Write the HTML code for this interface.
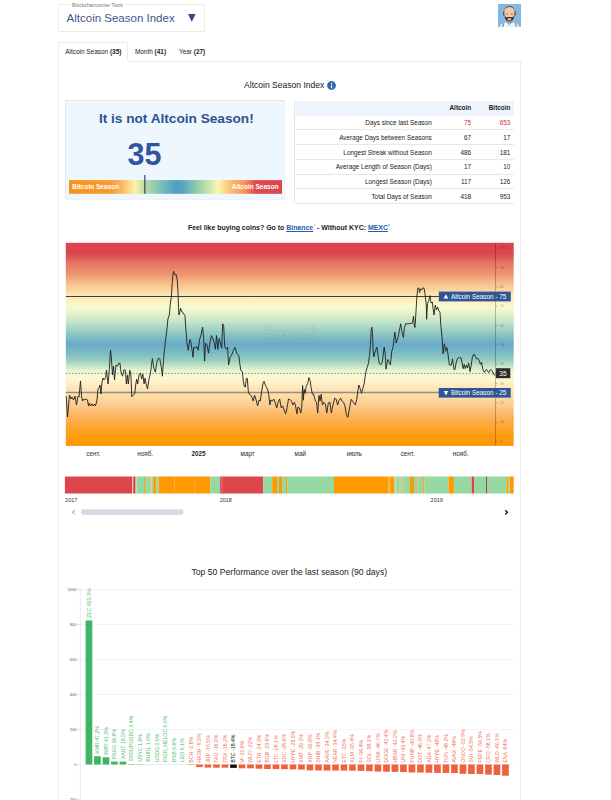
<!DOCTYPE html>
<html><head><meta charset="utf-8"><style>
*{margin:0;padding:0;box-sizing:border-box}
body{width:611px;height:800px;overflow:hidden;background:#fff;position:relative;font-family:'Liberation Sans',sans-serif;color:#333}
.a{position:absolute}
svg text{font-family:'Liberation Sans',sans-serif;}
</style></head><body>
<!-- dropdown -->
<div class="a" style="left:58.3px;top:4.4px;width:146.4px;height:27.6px;border:1px solid #ebebeb;border-radius:1.5px"></div>
<div class="a" style="left:70.5px;top:1.9px;padding:0 1.5px;background:#fff;font-size:5px;color:#777;line-height:6px">Blockchaincenter Tools</div>
<div class="a" style="left:66.6px;top:12.4px;font-size:11.5px;color:#44558c;line-height:13px;white-space:nowrap">Altcoin Season Index</div>
<svg class="a" style="left:188px;top:14.2px" width="7.6" height="8" viewBox="0 0 7.6 8"><path d="M0,0 L7.6,0 L3.8,8 Z" fill="#37498a"/></svg>
<!-- avatar -->
<svg class="a" style="left:497.8px;top:3.8px" width="23" height="23.2" viewBox="0 0 23 23.2">
<rect width="23" height="23.2" fill="#82b8e2"/>
<path d="M1.5,23.2 Q2.5,19.6 7.5,18.6 L11.4,19.6 L15.4,18.6 Q20.4,19.6 21.4,23.2 Z" fill="#eef0f4"/>
<path d="M4.6,23.2 L5.6,19.4" stroke="#4a4a5a" stroke-width="0.8"/><path d="M18.4,23.2 L17.4,19.4" stroke="#4a4a5a" stroke-width="0.8"/>
<path d="M9.6,18.4 L11.4,20.6 L13.3,18.4" fill="none" stroke="#6a5050" stroke-width="0.6"/>
<ellipse cx="6.1" cy="9.4" rx="1.1" ry="2.6" fill="#6b4a3c"/><ellipse cx="16.8" cy="9.4" rx="1.1" ry="2.6" fill="#6b4a3c"/>
<ellipse cx="11.4" cy="9.6" rx="5.1" ry="7.4" fill="#f1c7a6"/>
<path d="M6.4,6.5 Q7,2.2 11.4,2.1 Q15.8,2.2 16.4,6.5 Q15.4,3.2 11.4,3 Q7.4,3.2 6.4,6.5 Z" fill="#5a4a48"/>
<path d="M6.6,11.5 Q6.8,16.8 11.4,17.6 Q16,16.8 16.2,11.5 Q15.2,13.2 14.2,13.4 Q12.8,12.9 11.4,13.1 Q10,12.9 8.6,13.4 Q7.6,13.2 6.6,11.5 Z" fill="#33231c"/>
<ellipse cx="11.4" cy="15.3" rx="2" ry="1.2" fill="#e8b498"/>
<path d="M7.8,10.1 L10,10.1" stroke="#7a5a50" stroke-width="0.8"/><path d="M12.8,10.1 L15,10.1" stroke="#7a5a50" stroke-width="0.8"/>
</svg>
<!-- tabs -->
<div class="a" style="left:58.3px;top:42.2px;width:69.8px;height:19.3px;border:1px solid #ececec;border-bottom:none;background:#fff"></div>
<div class="a" style="left:128px;top:60.6px;width:392.5px;height:1px;background:#ececec"></div>
<div class="a" style="left:58.3px;top:61px;width:1px;height:739px;background:#ececec"></div>
<div class="a" style="left:519.8px;top:60.6px;width:1px;height:739.4px;background:#ececec"></div>
<div class="a" style="left:65.2px;top:48px;font-size:6.45px;line-height:7px;white-space:nowrap;color:#222">Altcoin Season <b>(35)</b></div>
<div class="a" style="left:134.9px;top:48px;font-size:6.45px;line-height:7px;white-space:nowrap;color:#222">Month <b>(41)</b></div>
<div class="a" style="left:179px;top:48px;font-size:6.45px;line-height:7px;white-space:nowrap;color:#222">Year <b>(27)</b></div>
<!-- title -->
<div class="a" style="left:244.1px;top:79.9px;font-size:8.55px;line-height:10px;white-space:nowrap;color:#222">Altcoin Season Index</div>
<svg class="a" style="left:327.3px;top:80.6px" width="9" height="9" viewBox="0 0 9 9"><circle cx="4.5" cy="4.5" r="4.4" fill="#3465a8"/><rect x="4" y="3.8" width="1.1" height="3.4" fill="#fff"/><circle cx="4.55" cy="2.5" r="0.65" fill="#fff"/></svg>
<!-- status box -->
<div class="a" style="left:64.9px;top:100.2px;width:219.7px;height:100.1px;background:#eef6fe;border:1px solid #e3e7ec;border-right-color:#eef2f6;border-bottom-color:#eef2f6"></div>
<div class="a" style="left:98.9px;top:110.9px;font-size:13.65px;line-height:16px;font-weight:bold;color:#2f5191;white-space:nowrap">It is not Altcoin Season!</div>
<div class="a" style="left:127.5px;top:136.9px;font-size:30.5px;line-height:34px;font-weight:bold;color:#30559c">35</div>
<svg class="a" style="left:68.8px;top:175px" width="213" height="19" viewBox="0 0 213 19"><rect x="0" y="5.1" width="213" height="13.7" fill="url(#gauge)"/><rect x="75.3" y="0" width="1.1" height="18.8" fill="#2a3550"/></svg>
<div class="a" style="left:72.2px;top:182.8px;font-size:6.5px;line-height:7px;font-weight:bold;color:#fff;white-space:nowrap">Bitcoin Season</div>
<div class="a" style="left:231.7px;top:182.8px;font-size:6.5px;line-height:7px;font-weight:bold;color:#fff;white-space:nowrap">Altcoin Season</div>
<!-- table -->
<div class="a" style="left:294.3px;top:100.5px;width:219.3px;height:15.1px;background:#eef5fd"></div>
<div class="a" style="left:294.3px;top:100.5px;width:219.3px;height:102.9px;border-left:1px solid #e6e6e6"></div>
<div class="a" style="left:449.5px;top:103.7px;font-size:6.4px;line-height:7px;font-weight:bold;color:#222;width:21.6px;text-align:right">Altcoin</div><div class="a" style="left:480px;top:103.7px;font-size:6.4px;line-height:7px;font-weight:bold;color:#222;width:30.4px;text-align:right">Bitcoin</div><div class="a" style="left:295.9px;top:129.4px;width:217.7px;height:0.6px;background:#e8e8e8"></div><div class="a" style="left:300px;top:119.2px;width:131.8px;text-align:right;font-size:6.4px;line-height:7px;color:#222;white-space:nowrap">Days since last Season</div><div class="a" style="left:440px;top:119.2px;width:31.1px;text-align:right;font-size:6.4px;line-height:7px;color:#d6323e">75</div><div class="a" style="left:480px;top:119.2px;width:30.4px;text-align:right;font-size:6.4px;line-height:7px;color:#d6323e">653</div><div class="a" style="left:295.9px;top:144.1px;width:217.7px;height:0.6px;background:#e8e8e8"></div><div class="a" style="left:300px;top:133.9px;width:131.8px;text-align:right;font-size:6.4px;line-height:7px;color:#222;white-space:nowrap">Average Days between Seasons</div><div class="a" style="left:440px;top:133.9px;width:31.1px;text-align:right;font-size:6.4px;line-height:7px;color:#222">67</div><div class="a" style="left:480px;top:133.9px;width:30.4px;text-align:right;font-size:6.4px;line-height:7px;color:#222">17</div><div class="a" style="left:295.9px;top:158.8px;width:217.7px;height:0.6px;background:#e8e8e8"></div><div class="a" style="left:300px;top:148.6px;width:131.8px;text-align:right;font-size:6.4px;line-height:7px;color:#222;white-space:nowrap">Longest Streak without Season</div><div class="a" style="left:440px;top:148.6px;width:31.1px;text-align:right;font-size:6.4px;line-height:7px;color:#222">486</div><div class="a" style="left:480px;top:148.6px;width:30.4px;text-align:right;font-size:6.4px;line-height:7px;color:#222">181</div><div class="a" style="left:295.9px;top:173.5px;width:217.7px;height:0.6px;background:#e8e8e8"></div><div class="a" style="left:300px;top:163.3px;width:131.8px;text-align:right;font-size:6.4px;line-height:7px;color:#222;white-space:nowrap">Average Length of Season (Days)</div><div class="a" style="left:440px;top:163.3px;width:31.1px;text-align:right;font-size:6.4px;line-height:7px;color:#222">17</div><div class="a" style="left:480px;top:163.3px;width:30.4px;text-align:right;font-size:6.4px;line-height:7px;color:#222">10</div><div class="a" style="left:295.9px;top:188.2px;width:217.7px;height:0.6px;background:#e8e8e8"></div><div class="a" style="left:300px;top:178.0px;width:131.8px;text-align:right;font-size:6.4px;line-height:7px;color:#222;white-space:nowrap">Longest Season (Days)</div><div class="a" style="left:440px;top:178.0px;width:31.1px;text-align:right;font-size:6.4px;line-height:7px;color:#222">117</div><div class="a" style="left:480px;top:178.0px;width:30.4px;text-align:right;font-size:6.4px;line-height:7px;color:#222">126</div><div class="a" style="left:295.9px;top:202.9px;width:217.7px;height:0.6px;background:#e8e8e8"></div><div class="a" style="left:300px;top:192.7px;width:131.8px;text-align:right;font-size:6.4px;line-height:7px;color:#222;white-space:nowrap">Total Days of Season</div><div class="a" style="left:440px;top:192.7px;width:31.1px;text-align:right;font-size:6.4px;line-height:7px;color:#222">418</div><div class="a" style="left:480px;top:192.7px;width:30.4px;text-align:right;font-size:6.4px;line-height:7px;color:#222">953</div>
<!-- promo -->
<div class="a" style="left:187.9px;top:223.6px;font-size:6.95px;line-height:8px;font-weight:bold;color:#222;white-space:nowrap">Feel like buying coins? Go to <span style="color:#2a5caa;text-decoration:underline">Binance</span><span style="display:inline-block;width:1.6px;height:2.4px;margin-left:0.4px;background:#9cc3e6;vertical-align:3.6px;border-radius:0.5px"></span> - Without KYC: <span style="color:#2a5caa;text-decoration:underline">MEXC</span><span style="display:inline-block;width:1.6px;height:2.4px;margin-left:0.4px;background:#9cc3e6;vertical-align:3.6px;border-radius:0.5px"></span></div>
<div class="a" style="left:191.5px;top:566.8px;font-size:8.65px;line-height:10px;color:#222;white-space:nowrap">Top 50 Performance over the last season (90 days)</div>
<svg style="position:absolute;left:0;top:0" width="611" height="800" viewBox="0 0 611 800">
<defs><linearGradient id="bg" x1="0" y1="242.8" x2="0" y2="445.5" gradientUnits="userSpaceOnUse"><stop offset="0.0000" stop-color="#de424e"/><stop offset="0.0498" stop-color="#da464a"/><stop offset="0.0750" stop-color="#de5a55"/><stop offset="0.1031" stop-color="#e77864"/><stop offset="0.1569" stop-color="#ee9673"/><stop offset="0.1929" stop-color="#f6b987"/><stop offset="0.2279" stop-color="#fbd29b"/><stop offset="0.2526" stop-color="#fde4b2"/><stop offset="0.2822" stop-color="#fdf0be"/><stop offset="0.3167" stop-color="#f5fad2"/><stop offset="0.3552" stop-color="#e1f0c8"/><stop offset="0.3848" stop-color="#c8e6c8"/><stop offset="0.4292" stop-color="#a0d2c3"/><stop offset="0.4647" stop-color="#82bec3"/><stop offset="0.4993" stop-color="#69aac8"/><stop offset="0.5387" stop-color="#78b9c3"/><stop offset="0.5782" stop-color="#96cdbe"/><stop offset="0.6103" stop-color="#c8e6c8"/><stop offset="0.6315" stop-color="#ebf5d2"/><stop offset="0.6670" stop-color="#fef8d2"/><stop offset="0.7109" stop-color="#fde8be"/><stop offset="0.7311" stop-color="#fee2b0"/><stop offset="0.7533" stop-color="#fedda6"/><stop offset="0.7755" stop-color="#fdd49c"/><stop offset="0.8101" stop-color="#fcc88a"/><stop offset="0.8446" stop-color="#fcb866"/><stop offset="0.8791" stop-color="#fcae48"/><stop offset="0.9087" stop-color="#fda632"/><stop offset="0.9497" stop-color="#fe9c10"/><stop offset="1.0000" stop-color="#ff9900"/></linearGradient>
<linearGradient id="gauge" x1="0" x2="1" y1="0" y2="0">
<stop offset="0" stop-color="#f7931e"/><stop offset="0.19" stop-color="#f89a2a"/><stop offset="0.245" stop-color="#fab45a"/>
<stop offset="0.31" stop-color="#fcf4a8"/><stop offset="0.355" stop-color="#b8dda6"/><stop offset="0.43" stop-color="#7fc0b3"/>
<stop offset="0.5" stop-color="#4f9ec4"/><stop offset="0.535" stop-color="#5aa6bf"/><stop offset="0.625" stop-color="#a9d8a8"/>
<stop offset="0.70" stop-color="#f9f7b0"/><stop offset="0.73" stop-color="#fbd88e"/><stop offset="0.775" stop-color="#f9b262"/>
<stop offset="0.82" stop-color="#f59a50"/><stop offset="0.85" stop-color="#ea6e52"/><stop offset="0.875" stop-color="#de4c50"/><stop offset="1" stop-color="#dc4249"/></linearGradient>
</defs>
<rect x="65.8" y="242.8" width="447.9" height="203" fill="url(#bg)"/><line x1="65.8" y1="445.3" x2="513.7" y2="445.3" stroke="#c86a00" stroke-opacity="0.25" stroke-width="0.8"/>
<text x="263.7" y="331" font-size="9" font-weight="bold" fill="#2a4a50" fill-opacity="0.08" textLength="53" lengthAdjust="spacingAndGlyphs">BLOCKCHAIN</text>
<text x="263.3" y="338.8" font-size="9" font-weight="bold" fill="#2a4a50" fill-opacity="0.08" textLength="52.5" lengthAdjust="spacingAndGlyphs">CENTER</text>
<line x1="495.5" y1="242.8" x2="495.5" y2="445.5" stroke="#000" stroke-opacity="0.3" stroke-width="0.8"/>
<line x1="495.5" y1="441.5" x2="497.5" y2="441.5" stroke="#000" stroke-opacity="0.35" stroke-width="0.6"/><text x="500" y="442.7" font-size="3.4" fill="#000" fill-opacity="0.4">0</text><line x1="495.5" y1="422.2" x2="497.5" y2="422.2" stroke="#000" stroke-opacity="0.35" stroke-width="0.6"/><text x="500" y="423.4" font-size="3.4" fill="#000" fill-opacity="0.4">10</text><line x1="495.5" y1="402.8" x2="497.5" y2="402.8" stroke="#000" stroke-opacity="0.35" stroke-width="0.6"/><text x="500" y="404.0" font-size="3.4" fill="#000" fill-opacity="0.4">20</text><line x1="495.5" y1="383.5" x2="497.5" y2="383.5" stroke="#000" stroke-opacity="0.35" stroke-width="0.6"/><text x="500" y="384.7" font-size="3.4" fill="#000" fill-opacity="0.4">30</text><line x1="495.5" y1="364.2" x2="497.5" y2="364.2" stroke="#000" stroke-opacity="0.35" stroke-width="0.6"/><text x="500" y="365.4" font-size="3.4" fill="#000" fill-opacity="0.4">40</text><line x1="495.5" y1="344.9" x2="497.5" y2="344.9" stroke="#000" stroke-opacity="0.35" stroke-width="0.6"/><text x="500" y="346.1" font-size="3.4" fill="#000" fill-opacity="0.4">50</text><line x1="495.5" y1="325.5" x2="497.5" y2="325.5" stroke="#000" stroke-opacity="0.35" stroke-width="0.6"/><text x="500" y="326.7" font-size="3.4" fill="#000" fill-opacity="0.4">60</text><line x1="495.5" y1="306.2" x2="497.5" y2="306.2" stroke="#000" stroke-opacity="0.35" stroke-width="0.6"/><text x="500" y="307.4" font-size="3.4" fill="#000" fill-opacity="0.4">70</text><line x1="495.5" y1="286.9" x2="497.5" y2="286.9" stroke="#000" stroke-opacity="0.35" stroke-width="0.6"/><text x="500" y="288.1" font-size="3.4" fill="#000" fill-opacity="0.4">80</text><line x1="495.5" y1="267.5" x2="497.5" y2="267.5" stroke="#000" stroke-opacity="0.35" stroke-width="0.6"/><text x="500" y="268.7" font-size="3.4" fill="#000" fill-opacity="0.4">90</text><line x1="495.5" y1="248.2" x2="497.5" y2="248.2" stroke="#000" stroke-opacity="0.35" stroke-width="0.6"/><text x="500" y="249.4" font-size="3.4" fill="#000" fill-opacity="0.4">100</text>
<line x1="65.8" y1="296.5" x2="439" y2="296.5" stroke="#363f44" stroke-width="1"/>
<line x1="65.8" y1="392.6" x2="439" y2="392.6" stroke="#918f86" stroke-width="1.5"/>
<line x1="65.8" y1="373.4" x2="496" y2="373.4" stroke="#555" stroke-width="0.6" stroke-dasharray="1.6,1.6"/>
<polyline points="66.2,396.0 67.5,417.0 69.5,395.0 71.0,399.0 72.0,397.0 73.5,400.0 75.0,396.0 76.5,405.0 78.0,396.0 79.0,397.0 80.5,381.0 81.5,396.0 82.5,401.0 83.5,399.0 84.5,400.0 86.0,399.0 87.5,400.0 88.5,406.0 89.5,403.0 90.5,406.0 92.0,404.0 93.0,406.0 94.5,404.0 95.5,406.0 97.0,400.0 98.0,389.0 99.0,388.0 100.0,385.0 101.0,394.0 102.0,382.0 103.0,378.0 104.0,380.0 105.5,378.0 106.5,370.0 108.0,384.0 109.0,374.0 110.5,350.0 111.5,360.0 112.5,375.0 113.5,366.0 114.5,380.0 116.0,365.0 117.5,366.0 119.0,363.0 120.0,363.4 121.0,372.2 122.5,376.2 123.9,369.8 125.4,370.3 126.4,384.0 127.4,375.2 128.3,384.0 129.8,370.3 130.8,373.2 131.8,396.8 133.3,394.8 134.7,393.9 135.7,385.0 136.7,379.1 137.7,384.0 139.2,374.2 140.6,373.2 141.6,379.1 142.8,374.2 144.1,384.0 145.0,378.1 146.0,383.0 147.5,389.0 149.0,379.1 150.5,373.2 151.4,365.4 152.4,358.5 153.9,368.3 155.4,372.2 156.8,362.4 158.3,358.0 159.8,359.0 161.3,367.3 162.4,376.2 163.7,357.5 164.7,347.7 165.7,338.8 166.9,330.0 167.9,319.0 169.3,315.0 170.3,304.2 171.3,297.3 172.3,282.6 172.8,275.7 173.6,271.3 174.7,274.7 176.2,274.7 177.2,279.6 177.9,289.5 178.5,307.2 178.9,315.0 179.6,313.0 180.6,308.1 181.6,311.0 183.1,313.0 184.9,315.4 185.9,329.6 186.9,342.4 188.3,350.3 189.8,339.5 190.8,341.4 191.8,348.3 193.0,357.2 193.8,347.3 195.2,348.3 196.7,346.3 198.2,350.3 199.6,339.5 201.1,334.6 202.6,327.2 203.6,337.5 204.6,361.1 205.5,343.4 207.0,344.4 208.5,353.2 210.0,342.4 211.4,335.5 212.9,338.5 214.4,343.4 215.4,349.3 216.5,335.5 217.8,349.3 219.1,338.5 220.3,342.4 221.7,348.3 222.7,323.8 223.7,325.7 224.7,346.3 226.2,349.3 227.6,347.3 228.6,365.0 230.1,357.2 231.6,355.2 233.0,351.3 235.0,347.3 236.5,352.9 238.0,354.8 238.9,355.8 239.9,364.6 240.9,370.5 242.4,371.5 243.3,381.3 244.3,386.3 245.3,387.2 246.3,378.4 247.3,378.4 248.3,391.2 249.2,394.1 250.7,395.1 251.9,397.1 253.2,401.0 254.6,395.1 256.1,400.0 257.6,405.9 259.1,400.0 260.3,401.0 261.5,392.2 263.0,383.3 264.0,381.3 265.5,385.3 266.4,387.2 267.9,390.2 268.9,396.1 269.9,404.9 270.9,400.0 272.3,401.0 273.8,399.0 275.3,403.0 276.7,407.9 278.2,402.0 279.7,399.0 281.2,407.9 282.6,405.9 284.1,409.8 285.6,413.8 287.1,407.9 288.5,399.0 290.0,399.5 291.5,401.2 292.9,405.1 294.4,402.2 295.4,405.1 296.9,413.9 297.9,407.1 299.3,408.0 300.8,413.0 301.8,406.1 302.6,385.5 303.3,400.2 304.2,389.4 305.2,393.3 306.2,386.4 307.7,383.5 308.9,377.6 310.1,380.5 311.1,387.4 312.4,394.3 313.6,394.3 314.6,398.2 315.5,401.2 316.5,402.2 317.7,413.0 319.0,395.3 320.0,401.2 321.2,394.3 322.4,405.1 323.9,402.2 325.4,404.1 326.8,413.0 328.3,403.1 329.8,402.2 331.3,413.0 332.7,406.1 334.7,398.2 336.2,399.2 337.6,405.1 339.1,400.2 340.6,398.2 342.1,401.2 343.5,402.2 345.0,406.1 346.4,414.6 347.8,417.3 349.1,410.5 351.2,399.4 353.3,402.2 355.3,405.0 356.7,399.4 358.8,385.0 360.1,388.4 361.5,393.3 362.9,388.4 364.3,382.9 365.6,373.3 367.0,367.8 368.4,363.7 369.5,355.4 370.5,344.4 371.1,330.6 371.8,327.2 372.5,333.4 373.2,351.3 373.9,356.8 375.3,351.3 376.9,347.2 378.0,355.4 379.4,363.7 380.8,365.0 382.2,362.3 384.2,347.2 385.2,354.0 386.0,369.2 387.7,359.5 389.3,362.3 390.4,365.0 391.8,351.3 393.2,346.5 394.8,332.0 396.2,343.0 398.0,337.5 399.4,330.6 400.7,323.8 401.3,327.5 402.3,333.8 403.5,337.5 404.4,327.5 405.6,323.8 408.8,323.8 412.5,323.1 413.5,316.3 414.4,326.3 415.0,327.5 416.0,311.3 416.9,296.3 417.8,288.1 418.8,288.1 419.6,292.5 420.6,288.8 421.5,290.0 422.5,288.1 424.0,288.1 425.0,293.8 426.3,305.0 426.6,319.4 427.5,303.8 428.8,300.6 430.0,295.6 431.0,303.1 432.3,301.9 433.1,308.8 434.0,315.0 435.3,305.0 436.5,310.0 437.5,306.9 438.8,310.6 440.0,312.5 441.0,327.5 441.9,335.0 443.1,353.8 444.4,343.8 445.6,351.3 446.9,347.5 448.1,355.0 449.4,365.0 451.3,365.0 452.5,358.8 454.0,369.4 455.0,369.5 456.1,362.8 457.2,359.1 458.3,357.7 459.4,357.7 460.9,357.7 462.0,362.1 463.1,368.7 464.2,364.3 465.3,368.7 466.4,365.0 467.5,368.0 468.6,362.8 470.1,371.7 471.2,365.0 472.3,357.7 473.4,354.7 474.5,354.7 475.6,356.9 476.7,359.1 477.8,358.4 478.9,359.9 480.4,364.3 481.5,362.1 482.6,368.0 483.4,370.9 484.5,372.4 485.6,370.2 486.7,369.5 487.8,371.7 488.9,372.4 490.0,370.2 491.1,369.5 492.2,370.9 493.3,373.1 494.4,375.3 495.1,374.6" fill="none" stroke="#1e1e1e" stroke-width="0.9" stroke-linejoin="round"/>
<rect x="438.8" y="291.6" width="72" height="9.8" fill="#2f5597"/>
<path d="M443.6,298.6 L448.2,298.6 L445.9,294.2 Z" fill="#fff"/>
<text x="451" y="298.9" font-size="6.5" fill="#fff" textLength="55.4" lengthAdjust="spacingAndGlyphs">Altcoin Season - 75</text>
<rect x="438.7" y="388" width="72" height="9.6" fill="#2f5597"/>
<path d="M443.8,391.1 L448.2,391.1 L446,395.4 Z" fill="#fff"/>
<text x="451" y="395.1" font-size="6.5" fill="#fff" textLength="55.4" lengthAdjust="spacingAndGlyphs">Bitcoin Season - 25</text>
<rect x="495.9" y="368.2" width="14.4" height="10" fill="#2b2b2b"/>
<text x="503" y="375.9" font-size="6.6" fill="#fff" text-anchor="middle">35</text>
<text x="93.3" y="456.3" font-size="6.3" fill="#2a2a2a" text-anchor="middle">сент.</text><text x="145.2" y="456.3" font-size="6.3" fill="#2a2a2a" text-anchor="middle">нояб.</text><text x="198.5" y="456.3" font-size="6.3" fill="#2a2a2a" text-anchor="middle" font-weight="bold">2025</text><text x="247.6" y="456.3" font-size="6.3" fill="#2a2a2a" text-anchor="middle">март</text><text x="300.3" y="456.3" font-size="6.3" fill="#2a2a2a" text-anchor="middle">май</text><text x="354.2" y="456.3" font-size="6.3" fill="#2a2a2a" text-anchor="middle">июль</text><text x="407.7" y="456.3" font-size="6.3" fill="#2a2a2a" text-anchor="middle">сент.</text><text x="460.7" y="456.3" font-size="6.3" fill="#2a2a2a" text-anchor="middle">нояб.</text><rect x="64.9" y="476.5" width="67.40" height="17" fill="#dc464b"/><rect x="132.3" y="476.5" width="1.00" height="17" fill="#ecc0a8"/><rect x="133.3" y="476.5" width="2.30" height="17" fill="#c9404c"/><rect x="135.6" y="476.5" width="0.90" height="17" fill="#cfe0b0"/><rect x="136.5" y="476.5" width="7.50" height="17" fill="#96d8a2"/><rect x="144.0" y="476.5" width="2.50" height="17" fill="#d6b450"/><rect x="146.5" y="476.5" width="4.00" height="17" fill="#96d8a2"/><rect x="150.5" y="476.5" width="1.00" height="17" fill="#c8c070"/><rect x="151.5" y="476.5" width="1.70" height="17" fill="#96d8a2"/><rect x="153.2" y="476.5" width="3.00" height="17" fill="#ff9900"/><rect x="156.2" y="476.5" width="2.40" height="17" fill="#96d8a2"/><rect x="158.6" y="476.5" width="51.70" height="17" fill="#ff9900"/><rect x="174.0" y="476.5" width="0.80" height="17" fill="#fbb550"/><rect x="194.4" y="476.5" width="0.80" height="17" fill="#fbb550"/><rect x="210.3" y="476.5" width="9.80" height="17" fill="#96d8a2"/><rect x="220.1" y="476.5" width="43.20" height="17" fill="#dc464b"/><rect x="221.6" y="476.5" width="0.80" height="17" fill="#e6807a"/><rect x="263.3" y="476.5" width="8.90" height="17" fill="#96d8a2"/><rect x="272.2" y="476.5" width="4.80" height="17" fill="#ff9900"/><rect x="277.0" y="476.5" width="2.00" height="17" fill="#96d8a2"/><rect x="279.0" y="476.5" width="3.00" height="17" fill="#ff9900"/><rect x="282.0" y="476.5" width="4.00" height="17" fill="#96d8a2"/><rect x="286.0" y="476.5" width="1.50" height="17" fill="#ff9900"/><rect x="287.5" y="476.5" width="46.50" height="17" fill="#96d8a2"/><rect x="334.0" y="476.5" width="54.60" height="17" fill="#ff9900"/><rect x="388.6" y="476.5" width="1.60" height="17" fill="#f5b448"/><rect x="390.2" y="476.5" width="4.10" height="17" fill="#ff9900"/><rect x="394.3" y="476.5" width="1.20" height="17" fill="#96d8a2"/><rect x="395.5" y="476.5" width="0.90" height="17" fill="#c8c070"/><rect x="396.4" y="476.5" width="3.20" height="17" fill="#96d8a2"/><rect x="399.6" y="476.5" width="0.90" height="17" fill="#c8c070"/><rect x="400.5" y="476.5" width="2.00" height="17" fill="#96d8a2"/><rect x="402.5" y="476.5" width="1.20" height="17" fill="#d6b450"/><rect x="403.7" y="476.5" width="6.20" height="17" fill="#96d8a2"/><rect x="409.9" y="476.5" width="4.10" height="17" fill="#ff9900"/><rect x="414.0" y="476.5" width="2.00" height="17" fill="#96d8a2"/><rect x="416.0" y="476.5" width="1.60" height="17" fill="#c8c070"/><rect x="417.6" y="476.5" width="4.50" height="17" fill="#96d8a2"/><rect x="422.1" y="476.5" width="2.50" height="17" fill="#d6b450"/><rect x="424.6" y="476.5" width="24.00" height="17" fill="#96d8a2"/><rect x="448.6" y="476.5" width="5.30" height="17" fill="#ff9900"/><rect x="453.9" y="476.5" width="17.80" height="17" fill="#96d8a2"/><rect x="471.7" y="476.5" width="2.70" height="17" fill="#dc464b"/><rect x="474.4" y="476.5" width="11.60" height="17" fill="#96d8a2"/><rect x="486.0" y="476.5" width="1.00" height="17" fill="#b04050"/><rect x="487.0" y="476.5" width="19.50" height="17" fill="#96d8a2"/><rect x="506.5" y="476.5" width="1.60" height="17" fill="#ff9900"/><rect x="508.1" y="476.5" width="1.50" height="17" fill="#96d8a2"/><rect x="509.6" y="476.5" width="4.10" height="17" fill="#ff9900"/><text x="65.1" y="502.3" font-size="5.5" fill="#333">2017</text><text x="219.7" y="502.3" font-size="5.5" fill="#333">2018</text><text x="430.6" y="502.3" font-size="5.5" fill="#333">2019</text><rect x="81.2" y="509.3" width="102.3" height="5.6" rx="2.8" fill="#d3dbe4"/><path d="M74.6,510.3 L72.6,512.3 L74.6,514.3" fill="none" stroke="#666" stroke-width="0.9"/><path d="M505.2,510.2 L507.4,512.3 L505.2,514.4" fill="none" stroke="#222" stroke-width="1.4"/><line x1="80.4" y1="589.5" x2="514" y2="589.5" stroke="#ececec" stroke-width="0.6"/><line x1="77" y1="589.5" x2="80.4" y2="589.5" stroke="#ccc" stroke-width="0.5"/><text x="76.4" y="590.9" font-size="4" fill="#555" text-anchor="end">1000</text><line x1="80.4" y1="624.5" x2="514" y2="624.5" stroke="#ececec" stroke-width="0.6"/><line x1="77" y1="624.5" x2="80.4" y2="624.5" stroke="#ccc" stroke-width="0.5"/><text x="76.4" y="625.9" font-size="4" fill="#555" text-anchor="end">800</text><line x1="80.4" y1="659.5" x2="514" y2="659.5" stroke="#ececec" stroke-width="0.6"/><line x1="77" y1="659.5" x2="80.4" y2="659.5" stroke="#ccc" stroke-width="0.5"/><text x="76.4" y="660.9" font-size="4" fill="#555" text-anchor="end">600</text><line x1="80.4" y1="694.5" x2="514" y2="694.5" stroke="#ececec" stroke-width="0.6"/><line x1="77" y1="694.5" x2="80.4" y2="694.5" stroke="#ccc" stroke-width="0.5"/><text x="76.4" y="695.9" font-size="4" fill="#555" text-anchor="end">400</text><line x1="80.4" y1="729.5" x2="514" y2="729.5" stroke="#ececec" stroke-width="0.6"/><line x1="77" y1="729.5" x2="80.4" y2="729.5" stroke="#ccc" stroke-width="0.5"/><text x="76.4" y="730.9" font-size="4" fill="#555" text-anchor="end">200</text><line x1="77" y1="764.5" x2="80.4" y2="764.5" stroke="#ccc" stroke-width="0.5"/><text x="76.4" y="765.9" font-size="4" fill="#555" text-anchor="end">0</text><line x1="77" y1="799.5" x2="80.4" y2="799.5" stroke="#ccc" stroke-width="0.5"/><text x="76.4" y="800.9" font-size="4" fill="#555" text-anchor="end">-200</text><line x1="80.4" y1="589" x2="80.4" y2="800" stroke="#dde" stroke-width="0.6"/><line x1="80.4" y1="764.5" x2="514" y2="764.5" stroke="#e3e3e3" stroke-width="0.6"/><rect x="85.60" y="620.42" width="6.7" height="144.08" fill="#3db764"/><text transform="translate(90.60,617.92) rotate(-90)" font-size="5.2" fill="#4dbd72">ZEC 823.3%</text><rect x="94.10" y="756.24" width="6.7" height="8.26" fill="#3db764"/><text transform="translate(99.10,753.74) rotate(-90)" font-size="5.2" fill="#4dbd72">XMR 47.2%</text><rect x="102.60" y="757.27" width="6.7" height="7.23" fill="#3db764"/><text transform="translate(107.60,754.77) rotate(-90)" font-size="5.2" fill="#4dbd72">WBT 41.3%</text><rect x="111.10" y="761.56" width="6.7" height="2.94" fill="#3db764"/><text transform="translate(116.10,759.06) rotate(-90)" font-size="5.2" fill="#4dbd72">PAXG 16.8%</text><rect x="119.60" y="761.61" width="6.7" height="2.89" fill="#3db764"/><text transform="translate(124.60,759.11) rotate(-90)" font-size="5.2" fill="#4dbd72">XAUT 16.5%</text><rect x="128.10" y="764.08" width="6.7" height="0.42" fill="#3db764"/><text transform="translate(133.10,761.58) rotate(-90)" font-size="5.2" fill="#4dbd72">SYRUPUSDC 2.4%</text><rect x="136.60" y="764.22" width="6.7" height="0.28" fill="#3db764"/><text transform="translate(141.60,761.72) rotate(-90)" font-size="5.2" fill="#4dbd72">USYC 1.6%</text><text transform="translate(150.10,761.83) rotate(-90)" font-size="5.2" fill="#4dbd72">BUIDL 1.0%</text><text transform="translate(158.60,762.00) rotate(-90)" font-size="5.2" fill="#4dbd72">USDG 0.0%</text><text transform="translate(167.10,762.00) rotate(-90)" font-size="5.2" fill="#4dbd72">FIGR_HELOC 0.0%</text><text transform="translate(175.60,761.89) rotate(-90)" font-size="5.2" fill="#4dbd72">BNB 0.6%</text><text transform="translate(184.10,761.98) rotate(-90)" font-size="5.2" fill="#4dbd72">LEO 0.1%</text><rect x="187.60" y="764.50" width="6.7" height="0.45" fill="#ef6240"/><text transform="translate(192.60,762.80) rotate(-90)" font-size="5.2" fill="#f07258">BCH -2.6%</text><rect x="196.10" y="764.50" width="6.7" height="2.62" fill="#ef6240"/><text transform="translate(201.10,762.80) rotate(-90)" font-size="5.2" fill="#f07258">HASH -9.5%</text><rect x="204.60" y="764.50" width="6.7" height="3.06" fill="#ef6240"/><text transform="translate(209.60,762.80) rotate(-90)" font-size="5.2" fill="#f07258">JUP -15.5%</text><rect x="213.10" y="764.50" width="6.7" height="3.20" fill="#ef6240"/><text transform="translate(218.10,762.80) rotate(-90)" font-size="5.2" fill="#f07258">TAO -16.3%</text><rect x="221.60" y="764.50" width="6.7" height="3.18" fill="#ef6240"/><text transform="translate(226.60,762.80) rotate(-90)" font-size="5.2" fill="#f07258">TRX -16.2%</text><rect x="230.10" y="764.50" width="6.7" height="3.39" fill="#111"/><text transform="translate(235.10,762.80) rotate(-90)" font-size="5.2" fill="#111">BTC -18.4%</text><rect x="238.60" y="764.50" width="6.7" height="3.78" fill="#ef6240"/><text transform="translate(243.60,762.80) rotate(-90)" font-size="5.2" fill="#f07258">M -21.6%</text><rect x="247.10" y="764.50" width="6.7" height="3.85" fill="#ef6240"/><text transform="translate(252.10,762.80) rotate(-90)" font-size="5.2" fill="#f07258">WLFI -22%</text><rect x="255.60" y="764.50" width="6.7" height="4.25" fill="#ef6240"/><text transform="translate(260.60,762.80) rotate(-90)" font-size="5.2" fill="#f07258">ETH -24.3%</text><rect x="264.10" y="764.50" width="6.7" height="4.46" fill="#ef6240"/><text transform="translate(269.10,762.80) rotate(-90)" font-size="5.2" fill="#f07258">BGB -23.6%</text><rect x="272.60" y="764.50" width="6.7" height="4.57" fill="#ef6240"/><text transform="translate(277.60,762.80) rotate(-90)" font-size="5.2" fill="#f07258">LTC -26.1%</text><rect x="281.10" y="764.50" width="6.7" height="4.69" fill="#ef6240"/><text transform="translate(286.10,762.80) rotate(-90)" font-size="5.2" fill="#f07258">XDC -26.6%</text><rect x="289.60" y="764.50" width="6.7" height="4.90" fill="#ef6240"/><text transform="translate(294.60,762.80) rotate(-90)" font-size="5.2" fill="#f07258">HYPE -28.5%</text><rect x="298.10" y="764.50" width="6.7" height="5.09" fill="#ef6240"/><text transform="translate(303.10,762.80) rotate(-90)" font-size="5.2" fill="#f07258">XMT -29.1%</text><rect x="306.60" y="764.50" width="6.7" height="5.88" fill="#ef6240"/><text transform="translate(311.60,762.80) rotate(-90)" font-size="5.2" fill="#f07258">XRP -33.6%</text><rect x="315.10" y="764.50" width="6.7" height="5.97" fill="#ef6240"/><text transform="translate(320.10,762.80) rotate(-90)" font-size="5.2" fill="#f07258">SHIB -34.1%</text><rect x="323.60" y="764.50" width="6.7" height="6.04" fill="#ef6240"/><text transform="translate(328.60,762.80) rotate(-90)" font-size="5.2" fill="#f07258">AAVE -34.5%</text><rect x="332.10" y="764.50" width="6.7" height="6.02" fill="#ef6240"/><text transform="translate(337.10,762.80) rotate(-90)" font-size="5.2" fill="#f07258">NEAR -34.4%</text><rect x="340.60" y="764.50" width="6.7" height="6.12" fill="#ef6240"/><text transform="translate(345.60,762.80) rotate(-90)" font-size="5.2" fill="#f07258">ETC -35%</text><rect x="349.10" y="764.50" width="6.7" height="6.19" fill="#ef6240"/><text transform="translate(354.10,762.80) rotate(-90)" font-size="5.2" fill="#f07258">XLM -35.4%</text><rect x="357.60" y="764.50" width="6.7" height="6.37" fill="#ef6240"/><text transform="translate(362.60,762.80) rotate(-90)" font-size="5.2" fill="#f07258">PI -36.4%</text><rect x="366.10" y="764.50" width="6.7" height="6.67" fill="#ef6240"/><text transform="translate(371.10,762.80) rotate(-90)" font-size="5.2" fill="#f07258">SOL -38.1%</text><rect x="374.60" y="764.50" width="6.7" height="7.12" fill="#ef6240"/><text transform="translate(379.60,762.80) rotate(-90)" font-size="5.2" fill="#f07258">LINK -40.7%</text><rect x="383.10" y="764.50" width="6.7" height="7.24" fill="#ef6240"/><text transform="translate(388.10,762.80) rotate(-90)" font-size="5.2" fill="#f07258">DOGE -41.4%</text><rect x="391.60" y="764.50" width="6.7" height="7.38" fill="#ef6240"/><text transform="translate(396.60,762.80) rotate(-90)" font-size="5.2" fill="#f07258">HBAR -42.2%</text><rect x="400.10" y="764.50" width="6.7" height="7.59" fill="#ef6240"/><text transform="translate(405.10,762.80) rotate(-90)" font-size="5.2" fill="#f07258">UNI -43.4%</text><rect x="408.60" y="764.50" width="6.7" height="7.98" fill="#ef6240"/><text transform="translate(413.60,762.80) rotate(-90)" font-size="5.2" fill="#f07258">PUMP -45.6%</text><rect x="417.10" y="764.50" width="6.7" height="8.05" fill="#ef6240"/><text transform="translate(422.10,762.80) rotate(-90)" font-size="5.2" fill="#f07258">DOT -46.0%</text><rect x="425.60" y="764.50" width="6.7" height="8.26" fill="#ef6240"/><text transform="translate(430.60,762.80) rotate(-90)" font-size="5.2" fill="#f07258">ADA -47.2%</text><rect x="434.10" y="764.50" width="6.7" height="8.40" fill="#ef6240"/><text transform="translate(439.10,762.80) rotate(-90)" font-size="5.2" fill="#f07258">HYPE -48%</text><rect x="442.60" y="764.50" width="6.7" height="8.44" fill="#ef6240"/><text transform="translate(447.60,762.80) rotate(-90)" font-size="5.2" fill="#f07258">TON -48.2%</text><rect x="451.10" y="764.50" width="6.7" height="8.57" fill="#ef6240"/><text transform="translate(456.10,762.80) rotate(-90)" font-size="5.2" fill="#f07258">AVAX -49%</text><rect x="459.60" y="764.50" width="6.7" height="9.26" fill="#ef6240"/><text transform="translate(464.60,762.80) rotate(-90)" font-size="5.2" fill="#f07258">ONDO -52.9%</text><rect x="468.10" y="764.50" width="6.7" height="9.54" fill="#ef6240"/><text transform="translate(473.10,762.80) rotate(-90)" font-size="5.2" fill="#f07258">SUI -54.5%</text><rect x="476.60" y="764.50" width="6.7" height="9.54" fill="#ef6240"/><text transform="translate(481.60,762.80) rotate(-90)" font-size="5.2" fill="#f07258">PEPE -54.5%</text><rect x="485.10" y="764.50" width="6.7" height="10.17" fill="#ef6240"/><text transform="translate(490.10,762.80) rotate(-90)" font-size="5.2" fill="#f07258">CRO -58.1%</text><rect x="493.60" y="764.50" width="6.7" height="10.52" fill="#ef6240"/><text transform="translate(498.60,762.80) rotate(-90)" font-size="5.2" fill="#f07258">WLD -60.1%</text><rect x="502.10" y="764.50" width="6.7" height="11.20" fill="#ef6240"/><text transform="translate(507.10,762.80) rotate(-90)" font-size="5.2" fill="#f07258">ENA -64%</text></svg>
</body></html>
